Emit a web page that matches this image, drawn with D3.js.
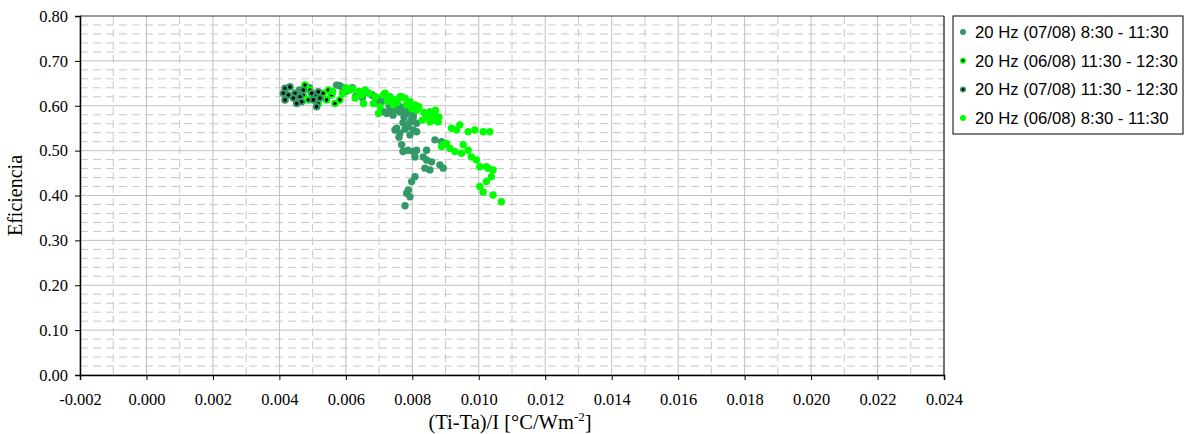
<!DOCTYPE html>
<html>
<head>
<meta charset="utf-8">
<script src="https://cdn.jsdelivr.net/npm/d3@7"></script>
<style>
  body { margin: 0; background: #fff; }
  svg { display: block; }
</style>
</head>
<body>
<div id="chart"></div>
<script>
// series values, [ (Ti-Ta)/I , eficiencia ]
var serie0708a = [
    [0.0042,0.625],[0.0046,0.635],[0.0049,0.640],[0.0053,0.622],[0.0056,0.630],[0.0058,0.645],
    [0.0060,0.632],[0.0063,0.622],[0.0066,0.630],[0.0068,0.624],[0.0069,0.617],[0.0071,0.610],
    [0.0073,0.600],[0.0076,0.598],[0.0078,0.590],[0.0080,0.583],[0.0071,0.587],[0.0073,0.587],
    [0.00723,0.583],[0.00742,0.579],[0.00763,0.586],[0.00783,0.583],[0.00803,0.575],[0.00793,0.564],
    [0.00813,0.561],[0.00772,0.562],[0.00753,0.550],[0.00748,0.546],[0.00763,0.539],[0.00787,0.553],
    [0.00803,0.546],[0.00793,0.535],[0.00813,0.542],[0.00768,0.513],[0.00772,0.498],[0.00787,0.501],
    [0.00803,0.498],[0.00813,0.501],[0.00808,0.486],[0.00843,0.501],[0.00833,0.486],[0.00843,0.479],
    [0.00858,0.475],[0.00868,0.524],[0.00888,0.520],[0.00883,0.468],[0.00853,0.457],[0.00838,0.461],
    [0.00893,0.461],[0.00808,0.442],[0.00798,0.431],[0.00788,0.412],[0.00783,0.405],[0.00793,0.397],
    [0.00778,0.377],[0.00678,0.624],[0.00693,0.617],[0.00713,0.587],[0.00733,0.587],[0.00763,0.598],
    [0.00783,0.590],[0.00803,0.583],[0.00572,0.646],[0.00587,0.642],[0.00620,0.640],[0.00650,0.618],
    [0.00700,0.605],[0.00745,0.590],[0.00775,0.575],[0.00798,0.570],[0.00778,0.548],[0.00760,0.530]
];
var serie0608b = [
    [0.00477,0.646],[0.00492,0.635],[0.00472,0.624],[0.00507,0.624],[0.00532,0.628],[0.00547,0.635],
    [0.00557,0.624],[0.00567,0.605],[0.00542,0.613],[0.00487,0.613],[0.00517,0.605],[0.00582,0.613]
];
var serie0708b = [
    [0.00417,0.639],[0.00432,0.642],[0.00412,0.628],[0.00427,0.624],[0.00447,0.628],[0.00442,0.617],
    [0.00462,0.620],[0.00467,0.609],[0.00452,0.605],[0.00417,0.613],[0.00502,0.613],[0.00512,0.598],
    [0.00522,0.617],[0.00497,0.628],[0.00517,0.631],[0.00472,0.635]
];
var serie0608a = [
    [0.0056,0.632],[0.0059,0.628],[0.0062,0.638],[0.0064,0.625],
    [0.00592,0.628],[0.00613,0.635],[0.00628,0.617],[0.00648,0.624],[0.00658,0.635],[0.00653,0.605],
    [0.00683,0.605],[0.00703,0.598],[0.00718,0.628],[0.00733,0.617],[0.00748,0.613],[0.00763,0.620],
    [0.00778,0.617],[0.00793,0.609],[0.00808,0.602],[0.00743,0.602],[0.00783,0.602],[0.00698,0.583],
    [0.00713,0.624],[0.00733,0.620],[0.00768,0.620],[0.00783,0.602],[0.00798,0.594],[0.00813,0.590],
    [0.00853,0.587],[0.00868,0.579],[0.00863,0.568],[0.00878,0.564],[0.00843,0.576],[0.00853,0.564],
    [0.00918,0.550],[0.00943,0.557],[0.00968,0.542],[0.00988,0.546],[0.01013,0.542],[0.01033,0.542],
    [0.00893,0.513],[0.00913,0.505],[0.00928,0.498],[0.00953,0.513],[0.00968,0.501],[0.00948,0.494],
    [0.00978,0.486],[0.00993,0.479],[0.01003,0.464],[0.01023,0.464],[0.01043,0.457],[0.01038,0.442],
    [0.01023,0.431],[0.01003,0.420],[0.01013,0.408],[0.01043,0.401],[0.01068,0.386],[0.00903,0.516],
    [0.00888,0.509],[0.00933,0.546],[0.01028,0.461],
    [0.00600,0.640],[0.00640,0.632],[0.00670,0.628],[0.00690,0.620],[0.00725,0.610],[0.00755,0.608],
    [0.00820,0.598],[0.00835,0.585],[0.00870,0.590],[0.00880,0.575],[0.00858,0.575],[0.00830,0.568]
];

var nomes = ["20 Hz (07/08) 8:30 - 11:30", "20 Hz (06/08) 11:30 - 12:30",
             "20 Hz (07/08) 11:30 - 12:30", "20 Hz (06/08) 8:30 - 11:30"];
var xTicks = [-0.002, 0, 0.002, 0.004, 0.006, 0.008, 0.010, 0.012, 0.014, 0.016, 0.018, 0.020, 0.022, 0.024];
var yTicks = [0, 0.1, 0.2, 0.3, 0.4, 0.5, 0.6, 0.7, 0.8];

var series = [
    {nome: nomes[0], dados: serie0708a, cor: "#339966", miolo: null},
    {nome: nomes[1], dados: serie0608b, cor: "#00ff00", miolo: "#000"},
    {nome: nomes[2], dados: serie0708b, cor: "#339966", miolo: "#000"},
    {nome: nomes[3], dados: serie0608a, cor: "#00ff00", miolo: null}
];

var width = 1189, height = 434;
var margemEsq = 80, margemSup = 16, plotW = 864, plotH = 359;
var serif = "Liberation Serif, Times New Roman, serif";

var svg = d3.select("#chart").append("svg")
    .attr("width", width)
    .attr("height", height);

var x = d3.scaleLinear().domain([-0.002, 0.024]).range([margemEsq, margemEsq + plotW]);
var y = d3.scaleLinear().domain([0, 0.8]).range([margemSup + plotH, margemSup]);

// minor grid (dashed)
var g = svg.append("g");
d3.range(-0.001, 0.024, 0.002).forEach(function (v) {
    g.append("line").attr("x1", x(v)).attr("x2", x(v)).attr("y1", margemSup).attr("y2", margemSup + plotH)
        .attr("stroke", "#c8c8c8").attr("stroke-dasharray", "8,5");
});
d3.range(0, 0.8, 0.02).forEach(function (v) {
    if (Math.abs(v * 10 - Math.round(v * 10)) < 1e-6) return;
    g.append("line").attr("x1", margemEsq).attr("x2", margemEsq + plotW).attr("y1", y(v)).attr("y2", y(v))
        .attr("stroke", "#c8c8c8").attr("stroke-dasharray", "8,5");
});
// major grid
xTicks.forEach(function (v) {
    g.append("line").attr("x1", x(v)).attr("x2", x(v)).attr("y1", margemSup).attr("y2", margemSup + plotH)
        .attr("stroke", "#c0c0c0");
});
yTicks.forEach(function (v) {
    g.append("line").attr("x1", margemEsq).attr("x2", margemEsq + plotW).attr("y1", y(v)).attr("y2", y(v))
        .attr("stroke", "#c0c0c0");
});

// frame
svg.append("line").attr("x1", margemEsq).attr("x2", margemEsq + plotW).attr("y1", margemSup).attr("y2", margemSup).attr("stroke", "#555");
svg.append("line").attr("x1", margemEsq + plotW).attr("x2", margemEsq + plotW).attr("y1", margemSup).attr("y2", margemSup + plotH).attr("stroke", "#000");

// axes
var xAxis = svg.append("g")
    .attr("transform", "translate(0," + (margemSup + plotH) + ")")
    .call(d3.axisBottom(x).tickValues(xTicks).tickFormat(d3.format(".3f")).tickSize(5).tickPadding(13));
var yAxis = svg.append("g")
    .attr("transform", "translate(" + margemEsq + ",0)")
    .call(d3.axisLeft(y).tickValues(yTicks).tickFormat(d3.format(".2f")).tickSize(5).tickPadding(7));
[xAxis, yAxis].forEach(function (a) {
    a.select(".domain").attr("stroke", "#000").attr("stroke-width", 1.5);
    a.selectAll("text").attr("font-family", serif)
        .attr("font-size", 16.5).attr("fill", "#000");
});
xAxis.selectAll("text").text(function (d) { return d < 0 ? "-" + d3.format(".3f")(-d) : d3.format(".3f")(d); });

// points
series.forEach(function (s) {
    var pg = svg.append("g");
    pg.selectAll("circle").data(s.dados).enter().append("circle")
        .attr("cx", function (d) { return x(d[0]); })
        .attr("cy", function (d) { return y(d[1]); })
        .attr("r", s.miolo ? 2.8 : 3.7)
        .attr("fill", s.miolo ? s.miolo : s.cor)
        .attr("stroke", s.cor)
        .attr("stroke-width", s.miolo ? 2 : 0);
});

// axis titles
svg.append("text")
    .attr("transform", "translate(22," + (margemSup + plotH / 2) + ") rotate(-90)")
    .attr("text-anchor", "middle")
    .attr("font-family", serif)
    .attr("font-size", 20)
    .text("Eficiencia");

var xt = svg.append("text")
    .attr("x", margemEsq + plotW / 2 - 2)
    .attr("y", 429)
    .attr("text-anchor", "middle")
    .attr("font-family", serif)
    .attr("font-size", 20.5);
xt.append("tspan").text("(Ti-Ta)/I [°C/Wm");
xt.append("tspan").attr("dy", -8).attr("font-size", 13).text("-2");
xt.append("tspan").attr("dy", 8).text("]");

// legend
var lg = svg.append("g").attr("transform", "translate(953,16)");
lg.append("rect").attr("width", 230).attr("height", 118)
    .attr("fill", "#fff").attr("stroke", "#000");
series.forEach(function (s, i) {
    var yy = 16 + i * 28.7;
    lg.append("circle").attr("cx", 10).attr("cy", yy)
        .attr("r", s.miolo ? 2.2 : 3)
        .attr("fill", s.miolo ? s.miolo : s.cor)
        .attr("stroke", s.cor)
        .attr("stroke-width", s.miolo ? 1.6 : 0);
    lg.append("text").attr("x", 22).attr("y", yy + 6)
        .attr("font-family", "Liberation Sans, Arial, sans-serif")
        .attr("font-size", 16.7)
        .text(s.nome);
});
</script>
</body>
</html>
